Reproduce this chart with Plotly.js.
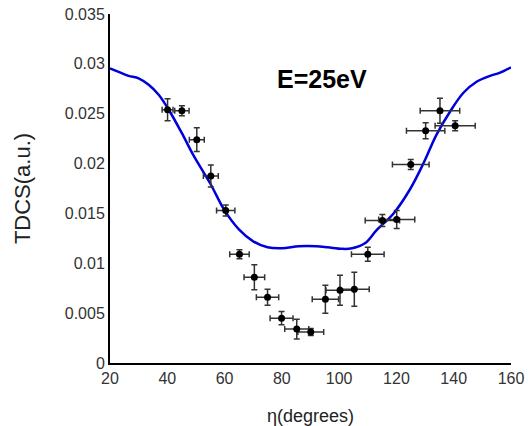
<!DOCTYPE html>
<html>
<head>
<meta charset="utf-8">
<script src="https://cdn.plot.ly/plotly-3.0.1.min.js"></script>
<style>html,body{margin:0;padding:0;background:#fff;}#chart{width:528px;height:426px;}</style>
</head>
<body>
<div id="chart"></div>
<script>
// Theory curve
const theoryEta = [20, 23, 26.5, 30, 33.5, 37, 40.5, 45, 49, 55, 60, 65, 70, 75, 80, 86, 92, 96, 101, 104.5, 109, 113, 119, 124.7, 129.4, 134, 138.7, 143.4, 148, 152.7, 156, 160];
const theoryTdcs = [0.02955, 0.0292, 0.0288, 0.02855, 0.0279, 0.0269, 0.0254, 0.0231, 0.0209, 0.0180, 0.0153, 0.0134, 0.0122, 0.0116, 0.0115, 0.0117, 0.0117, 0.0116, 0.01145, 0.0115, 0.0120, 0.0133, 0.0150, 0.0174, 0.0200, 0.0229, 0.0252, 0.0271, 0.0282, 0.0288, 0.0291, 0.02965];

// Experimental points
const expEta = [40.1, 45.1, 50.3, 55.2, 60.4, 65.2, 70.4, 75.0, 79.9, 85.2, 90.1, 95.2, 100.3, 105.3, 110.0, 115.1, 120.1, 125.0, 130.2, 135.2, 140.5];
const expTdcs = [0.0254, 0.0253, 0.0224, 0.01875, 0.0153, 0.0109, 0.0086, 0.0066, 0.0045, 0.0034, 0.0031, 0.0064, 0.0073, 0.0074, 0.0109, 0.0143, 0.0144, 0.0199, 0.0233, 0.0253, 0.0238];
const expTdcsErr = [0.0011, 0.0005, 0.0012, 0.0011, 0.00055, 0.00045, 0.00125, 0.0008, 0.00067, 0.001, 0.00035, 0.0014, 0.0015, 0.0017, 0.0007, 0.0006, 0.0009, 0.0005, 0.0008, 0.00125, 0.0005];
const expEtaErr = [1.9, 2.5, 2.6, 2.6, 3.2, 3.4, 3.6, 3.9, 4.0, 4.2, 4.5, 4.6, 4.9, 5.2, 5.7, 6.0, 6.3, 6.4, 6.7, 6.9, 7.0];

const xTicks = [20, 40, 60, 80, 100, 120, 140, 160];
const yTicks = [0, 0.005, 0.01, 0.015, 0.02, 0.025, 0.03, 0.035];
const yTickText = ['0', '0.005', '0.01', '0.015', '0.02', '0.025', '0.03', '0.035'];
const energyLabel = 'E=25eV';

const font = '"Liberation Sans", Arial, sans-serif';

const traces = [
  {
    x: theoryEta, y: theoryTdcs, type: 'scatter', mode: 'lines',
    line: {color: '#0000dd', width: 2.5, shape: 'spline', smoothing: 1},
    hoverinfo: 'skip'
  },
  {
    x: expEta, y: expTdcs, type: 'scatter', mode: 'markers',
    marker: {color: '#000', size: 7},
    error_y: {type: 'data', array: expTdcsErr, visible: true, color: '#333', thickness: 1.5, width: 3},
    error_x: {type: 'data', array: expEtaErr, visible: true, color: '#333', thickness: 1.5, width: 3}
  }
];

const layout = {
  width: 528, height: 426,
  margin: {l: 110, r: 17, t: 14, b: 63},
  paper_bgcolor: '#fff', plot_bgcolor: '#fff',
  showlegend: false,
  font: {family: font, color: '#333', size: 16},
  xaxis: {
    range: [20, 160], tickvals: xTicks, ticks: '', showgrid: false, zeroline: false,
    showline: true, linecolor: '#000', linewidth: 2,
    tickfont: {size: 16, color: '#333'},
    title: {text: 'η(degrees)', font: {size: 18, color: '#222'}, standoff: 24}
  },
  yaxis: {
    range: [0, 0.035], tickvals: yTicks, ticktext: yTickText, ticks: '', showgrid: false, zeroline: false,
    showline: true, linecolor: '#000', linewidth: 2,
    tickfont: {size: 16, color: '#333'},
    title: {text: 'TDCS(a.u.)', font: {size: 22, color: '#222'}, standoff: 28}
  },
  annotations: [{
    x: 93.9, y: 0.02848, xref: 'x', yref: 'y', text: '<b>' + energyLabel + '</b>',
    showarrow: false, font: {size: 25, color: '#000', family: font}
  }]
};

Plotly.newPlot('chart', traces, layout, {displayModeBar: false, staticPlot: true});
</script>
</body>
</html>
